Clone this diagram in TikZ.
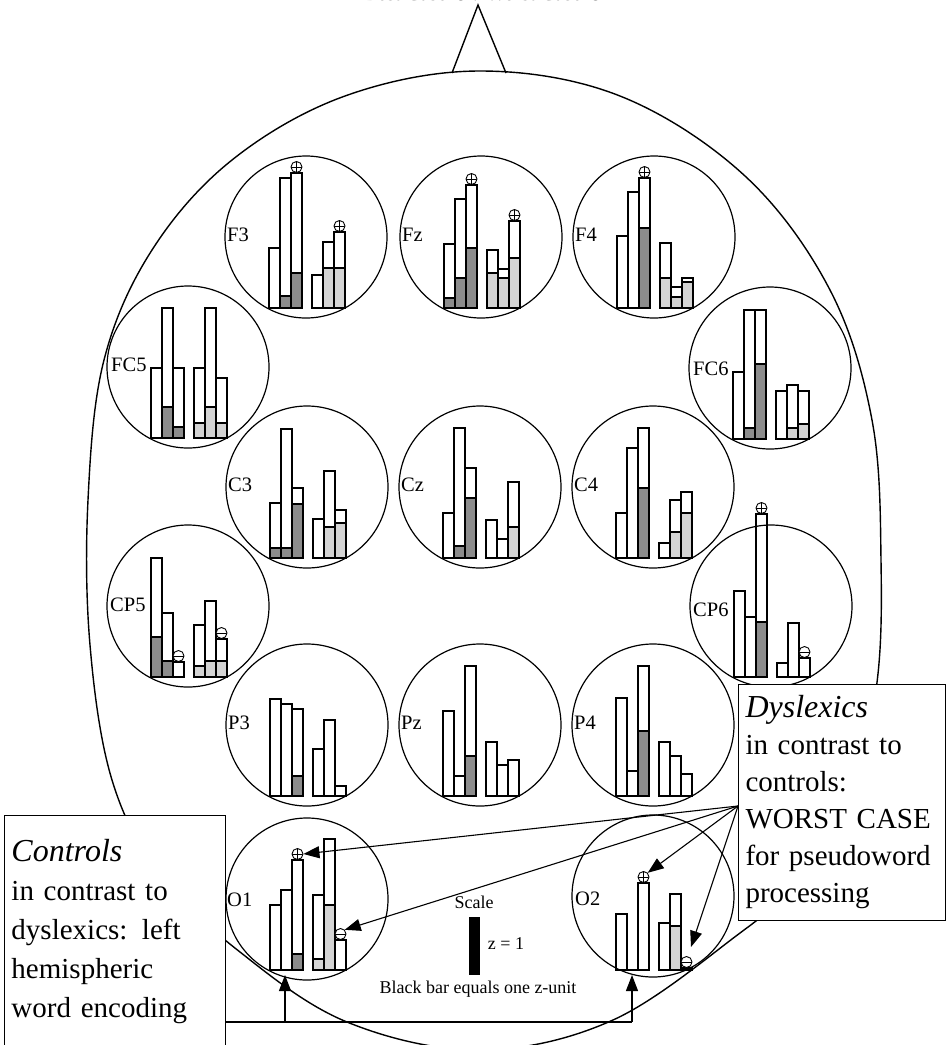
\documentclass[tikz,border=0pt]{standalone}
\usepackage{fontspec}
\setmainfont{Liberation Serif}
\newfontfamily\symfont{DejaVu Sans}
\usetikzlibrary{arrows.meta,calc}
\newcommand\bb[4]{%
  \fill[#4] (#1,71) rectangle ++(11,-#3);
  \draw[barln] (#1,71) rectangle ++(11,-#2);
  \draw[barln] (#1,71-#3) -- ++(11,0);
}
\tikzset{
  headln/.style={line width=1.4pt},
  elec/.style={circle, draw, line width=1.2pt, minimum size=162pt, inner sep=0pt},
  barln/.style={line width=1.1pt},
  dk/.style={fill=black!45},
  lt/.style={fill=black!17},
  wh/.style={fill=white},
  lbl/.style={font=\fontsize{20.5}{20.5}\selectfont, anchor=west, inner sep=0pt},
  pls/.style={circle, draw, line width=0.9pt, minimum size=11pt, inner sep=0pt, fill=white,
    path picture={\draw[line width=0.9pt] (path picture bounding box.north) -- (path picture bounding box.south)
      (path picture bounding box.west) -- (path picture bounding box.east);}},
  mns/.style={circle, draw, line width=0.9pt, minimum size=11pt, inner sep=0pt, fill=white,
    path picture={\draw[line width=0.9pt] (path picture bounding box.west) -- (path picture bounding box.east);}},
  tbox/.style={draw, line width=1pt, fill=white, align=left, anchor=north west, inner sep=7pt},
  arr/.style={line width=1.1pt, -{Triangle[length=16pt,width=12pt]}},
  conn/.style={line width=1.1pt},
  small/.style={font=\fontsize{18}{18}\selectfont, inner sep=0pt}
}
\begin{document}
\begin{tikzpicture}[x=1pt,y=-1pt]
\useasboundingbox (0,0) rectangle (947,1045);
% top legend (cut off by the page edge)
\node[font=\fontsize{21}{21}\selectfont, inner sep=0pt, anchor=base] (legend) at (484,0.3) {Best Case {\symfont ⊕} / Worst Case {\symfont ⊖}};
% head
\draw[headln] plot[smooth cycle, tension=0.6] coordinates {
  (480,71) (620,96) (745,176) (830,290) (872,420) (881,560) (876,690)
  (845,815) (795,885) (740,933) (613,1020) (480,1050) (347,1022)
  (240,952) (160,875) (112,780) (90,645) (88,500) (104,360) (152,250)
  (232,160) (345,96)};
\draw[headln] (452,73) -- (478,5) -- (506,73);
% F3
\begin{scope}[shift={(306,237)}]
\node[elec] (F3) at (0,0) {};
\node[lbl] at (-79,-2) {F3};
\bb{-37}{60}{0}{wh}
\bb{-26}{130}{12}{dk}
\bb{-15}{135}{35}{dk}
\bb{6}{33}{0}{wh}
\bb{17}{66}{40}{lt}
\bb{28}{76}{40}{lt}
\node[pls] (F3p1) at (-9.5,-70) {};
\node[pls] (F3p2) at (33.5,-11) {};
\end{scope}
% Fz
\begin{scope}[shift={(481,237)}]
\node[elec] (Fz) at (0,0) {};
\node[lbl] at (-79,-2) {Fz};
\bb{-37}{64}{10}{dk}
\bb{-26}{109}{30}{dk}
\bb{-15}{123}{60}{dk}
\bb{6}{58}{35}{lt}
\bb{17}{39}{30}{lt}
\bb{28}{87}{50}{lt}
\node[pls] (Fzp1) at (-9.5,-58) {};
\node[pls] (Fzp2) at (33.5,-22) {};
\end{scope}
% F4
\begin{scope}[shift={(654,237)}]
\node[elec] (F4) at (0,0) {};
\node[lbl] at (-79,-2) {F4};
\bb{-37}{72}{0}{wh}
\bb{-26}{116}{0}{wh}
\bb{-15}{130}{80}{dk}
\bb{6}{65}{30}{lt}
\bb{17}{21}{11}{lt}
\bb{28}{30}{26}{lt}
\node[pls] (F4p1) at (-9.5,-65) {};
\end{scope}
% FC5
\begin{scope}[shift={(188,367)}]
\node[elec] (FC5) at (0,0) {};
\node[lbl] at (-77,-2) {FC5};
\bb{-37}{70}{0}{wh}
\bb{-26}{130}{31}{dk}
\bb{-15}{70}{11}{dk}
\bb{6}{70}{15}{lt}
\bb{17}{130}{31}{lt}
\bb{28}{60}{15}{lt}
\end{scope}
% FC6
\begin{scope}[shift={(770,368)}]
\node[elec] (FC6) at (0,0) {};
\node[lbl] at (-77,1) {FC6};
\bb{-37}{67}{0}{wh}
\bb{-26}{129}{11}{dk}
\bb{-15}{129}{75}{dk}
\bb{6}{48}{0}{wh}
\bb{17}{54}{11}{lt}
\bb{28}{48}{15}{lt}
\end{scope}
% C3
\begin{scope}[shift={(307,487)}]
\node[elec] (C3) at (0,0) {};
\node[lbl] at (-79,-2) {C3};
\bb{-37}{55}{10}{dk}
\bb{-26}{129}{10}{dk}
\bb{-15}{70}{54}{dk}
\bb{6}{39}{0}{wh}
\bb{17}{87}{31}{lt}
\bb{28}{48}{35}{lt}
\end{scope}
% Cz
\begin{scope}[shift={(480,487)}]
\node[elec] (Cz) at (0,0) {};
\node[lbl] at (-79,-2) {Cz};
\bb{-37}{45}{0}{wh}
\bb{-26}{130}{12}{dk}
\bb{-15}{90}{60}{dk}
\bb{6}{38}{0}{wh}
\bb{17}{19}{0}{wh}
\bb{28}{76}{31}{lt}
\end{scope}
% C4
\begin{scope}[shift={(653,487)}]
\node[elec] (C4) at (0,0) {};
\node[lbl] at (-79,-2) {C4};
\bb{-37}{45}{0}{wh}
\bb{-26}{110}{0}{wh}
\bb{-15}{130}{70}{dk}
\bb{6}{15}{0}{wh}
\bb{17}{58}{26}{lt}
\bb{28}{66}{45}{lt}
\end{scope}
% CP5
\begin{scope}[shift={(188,606)}]
\node[elec] (CP5) at (0,0) {};
\node[lbl] at (-78,-1) {CP5};
\bb{-37}{119}{40}{dk}
\bb{-26}{64}{16}{dk}
\bb{-15}{15}{0}{wh}
\bb{6}{52}{11}{lt}
\bb{17}{76}{16}{lt}
\bb{28}{38}{16}{lt}
\node[mns] (CP5m1) at (-9.5,50) {};
\node[mns] (CP5m2) at (33.5,27) {};
\end{scope}
% CP6
\begin{scope}[shift={(771,606)}]
\node[elec] (CP6) at (0,0) {};
\node[lbl] at (-78,4) {CP6};
\bb{-37}{86}{0}{wh}
\bb{-26}{60}{0}{wh}
\bb{-15}{163}{55}{dk}
\bb{6}{14}{0}{wh}
\bb{17}{54}{0}{wh}
\bb{28}{19}{0}{wh}
\node[pls] (CP6p) at (-9.5,-98) {};
\node[mns] (CP6m) at (33.5,46) {};
\end{scope}
% P3
\begin{scope}[shift={(307,725)}]
\node[elec] (P3) at (0,0) {};
\node[lbl] at (-79,-2) {P3};
\bb{-37}{97}{0}{wh}
\bb{-26}{92}{0}{wh}
\bb{-15}{87}{20}{dk}
\bb{6}{47}{0}{wh}
\bb{17}{76}{0}{wh}
\bb{28}{10}{0}{wh}
\end{scope}
% Pz
\begin{scope}[shift={(480,725)}]
\node[elec] (Pz) at (0,0) {};
\node[lbl] at (-79,-2) {Pz};
\bb{-37}{85}{0}{wh}
\bb{-26}{20}{0}{wh}
\bb{-15}{130}{40}{dk}
\bb{6}{54}{0}{wh}
\bb{17}{31}{0}{wh}
\bb{28}{36}{0}{wh}
\end{scope}
% P4
\begin{scope}[shift={(653,725)}]
\node[elec] (P4) at (0,0) {};
\node[lbl] at (-79,-2) {P4};
\bb{-37}{98}{0}{wh}
\bb{-26}{25}{0}{wh}
\bb{-15}{130}{65}{dk}
\bb{6}{54}{0}{wh}
\bb{17}{40}{0}{wh}
\bb{28}{22}{0}{wh}
\end{scope}
% O1
\begin{scope}[shift={(307,899)}]
\node[elec] (O1) at (0,0) {};
\node[lbl] at (-80,1) {O1};
\bb{-37}{65}{0}{wh}
\bb{-26}{80}{0}{wh}
\bb{-15}{110}{16}{dk}
\bb{6}{75}{11}{lt}
\bb{17}{131}{65}{lt}
\bb{28}{30}{0}{wh}
\node[pls] (O1p) at (-9.5,-45) {};
\node[mns] (O1m) at (33.5,35) {};
\coordinate (O1base) at (-22,76);
\end{scope}
% O2
\begin{scope}[shift={(653,899)}]
\node[elec] (O2) at (0,-3) {};
\node[lbl] at (-78,0) {O2};
\bb{-37}{56}{0}{wh}
\bb{-26}{0}{0}{wh}
\bb{-15}{87}{0}{wh}
\bb{6}{47}{0}{wh}
\bb{17}{76}{44}{lt}
\bb{28}{2}{0}{wh}
\node[pls] (O2p) at (-9.5,-22) {};
\node[mns] (O2m) at (33.5,63) {};
\coordinate (O2tip) at (38,48);
\coordinate (O2base) at (-21,76);
\end{scope}
% scale
\node[small] (scl) at (474,902) {Scale};
\fill (469,917) rectangle (480,975);
\node[small] (z1) at (506,944) {z = 1};
\node[small] (bbar) at (478,989) {Black bar equals one z-unit};
% boxes
\node[tbox, text width=207pt, minimum height=232pt, font=\fontsize{29}{39}\selectfont] (ctrl) at (4,815)
  {{\fontsize{32}{39}\selectfont\itshape Controls}\\in contrast to\\dyslexics: left\\hemispheric\\word encoding};
\node[tbox, text width=193pt, minimum height=236pt, font=\fontsize{29}{37}\selectfont] (dys) at (738,684)
  {{\fontsize{32}{37}\selectfont\itshape Dyslexics}\\in contrast to\\controls:\\WORST CASE\\for pseudoword\\processing};
% connectors
\coordinate (dsrc) at (dys.west |- 0,806);
\draw[arr] (dsrc) -- (O1p.east);
\draw[arr] (dsrc) -- (O1m.north east);
\draw[arr] (dsrc) -- (O2p.north east);
\draw[arr] (dsrc) -- (O2tip);
\coordinate (cj) at (ctrl.east |- 0,1022);
\coordinate (cm) at (O1base |- 0,1022);
\coordinate (cr) at (O2base |- 0,1022);
\draw[conn] (cj) -- (cr);
\draw[arr] (cm) -- (O1base);
\draw[arr] (cr) -- (O2base);
\end{tikzpicture}
\end{document}
